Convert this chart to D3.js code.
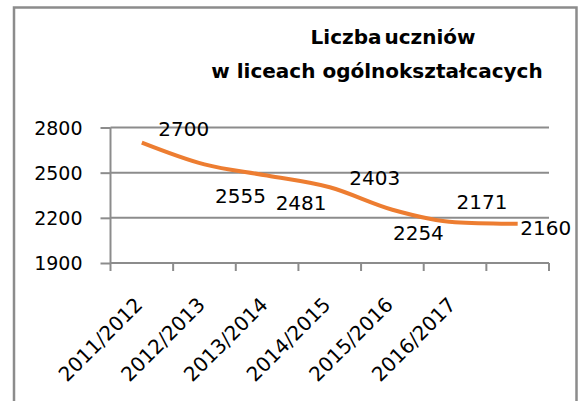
<!DOCTYPE html>
<meta charset="utf-8">
<style>
body { margin: 0; background: #fff; }
.grid line { stroke: #8c8c8c; stroke-width: 2px; }
.axis path, .axis line { stroke: #8c8c8c; stroke-width: 2px; }
.axis text { font-family: "DejaVu Sans", sans-serif; font-size: 19px; fill: #000; }
.axis text.cat { font-size: 20px; }
.line { fill: none; stroke: #ed7d31; stroke-width: 4px; stroke-linejoin: round; }
.lbl { font-family: "DejaVu Sans", sans-serif; font-size: 20px; fill: #000; }
.title { font-family: "DejaVu Sans", sans-serif; font-weight: bold; font-size: 20px; fill: #000; }
</style>
<body>
<script src="https://d3js.org/d3.v7.min.js"></script>
<script>

// chart data
var years = ["2011/2012", "2012/2013", "2013/2014", "2014/2015", "2015/2016", "2016/2017", ""];
var students = [2700, 2555, 2481, 2403, 2254, 2171, 2160];
var yTicks = [1900, 2200, 2500, 2800];
var titleLines = ["Liczba uczniów", "w liceach ogólnokształcacych"];

// hand placed data labels (offset of label centre from point)
var labelOffsets = [[42, -14], [36, 31], [34, 27], [45, -9], [26, 23], [27, -20], [28, 4]];

var W = 580, H = 401;
var margin = {top: 127.5, right: 31, bottom: 138, left: 110.5},
    width = W - margin.left - margin.right,
    height = H - margin.top - margin.bottom;

var svg = d3.select("body").append("svg")
    .attr("width", W)
    .attr("height", H);

// outer frame (bottom edge is off the picture)
svg.append("path")
    .attr("d", "M14,410V7.5H576.5V410")
    .attr("fill", "none")
    .attr("stroke", "#8c8c8c")
    .attr("stroke-width", 2.5);

// title
svg.selectAll(".title")
    .data(titleLines)
  .enter().append("text")
    .attr("class", "title")
    .attr("x", function(d, i) { return i ? 377 : 393; })
    .attr("y", function(d, i) { return 44 + i * 34; })
    .attr("text-anchor", "middle")
    .style("word-spacing", function(d, i) { return i ? null : "-4px"; })
    .text(function(d) { return d; });

var g = svg.append("g")
    .attr("transform", "translate(" + margin.left + "," + margin.top + ")");

var x = d3.scaleBand().domain(d3.range(years.length)).range([0, width]);
var y = d3.scaleLinear().domain([1900, 2800]).range([height, 0]);

// horizontal gridlines
g.append("g")
    .attr("class", "grid")
  .selectAll("line")
    .data(yTicks.slice(1))
  .enter().append("line")
    .attr("x1", 0)
    .attr("x2", width)
    .attr("y1", function(d) { return y(d); })
    .attr("y2", function(d) { return y(d); });

// y axis
var yAxis = g.append("g")
    .attr("class", "axis")
    .call(d3.axisLeft(y).tickValues(yTicks).tickFormat(d3.format("d"))
      .tickSize(10).tickSizeOuter(0).tickPadding(18));
yAxis.select(".domain").remove();
yAxis.append("line")
    .attr("x1", 0).attr("x2", 0)
    .attr("y1", 0).attr("y2", height);
yAxis.selectAll("text").attr("dy", "0.36em");

// x axis, ticks on band edges
var xEdge = d3.scaleLinear().domain([0, years.length]).range([0, width]);
var xAxis = g.append("g")
    .attr("class", "axis")
    .attr("transform", "translate(0," + height + ")");
xAxis.append("line")
    .attr("x1", 0).attr("x2", width);
xAxis.selectAll(".tk")
    .data(d3.range(years.length + 1))
  .enter().append("line")
    .attr("x1", function(d) { return xEdge(d); })
    .attr("x2", function(d) { return xEdge(d); })
    .attr("y1", 0)
    .attr("y2", 8);
xAxis.selectAll(".cat")
    .data(years)
  .enter().append("text")
    .attr("class", "cat")
    .attr("text-anchor", "end")
    .attr("transform", function(d, i) {
      return "translate(" + (x(i) + x.bandwidth() / 2 - 8) + ",33) rotate(-45)";
    })
    .attr("dy", "0.7em")
    .text(function(d) { return d; });

// line
var line = d3.line()
    .x(function(d, i) { return x(i) + x.bandwidth() / 2; })
    .y(function(d) { return y(d); })
    .curve(d3.curveMonotoneX);

g.append("path")
    .datum(students)
    .attr("class", "line")
    .attr("d", line);

// data labels
g.selectAll(".lbl")
    .data(students)
  .enter().append("text")
    .attr("class", "lbl")
    .attr("text-anchor", "middle")
    .attr("x", function(d, i) { return x(i) + x.bandwidth() / 2 + labelOffsets[i][0]; })
    .attr("y", function(d, i) { return y(d) + labelOffsets[i][1]; })
    .attr("dy", "0.36em")
    .text(function(d) { return d; });

</script>
</body>
